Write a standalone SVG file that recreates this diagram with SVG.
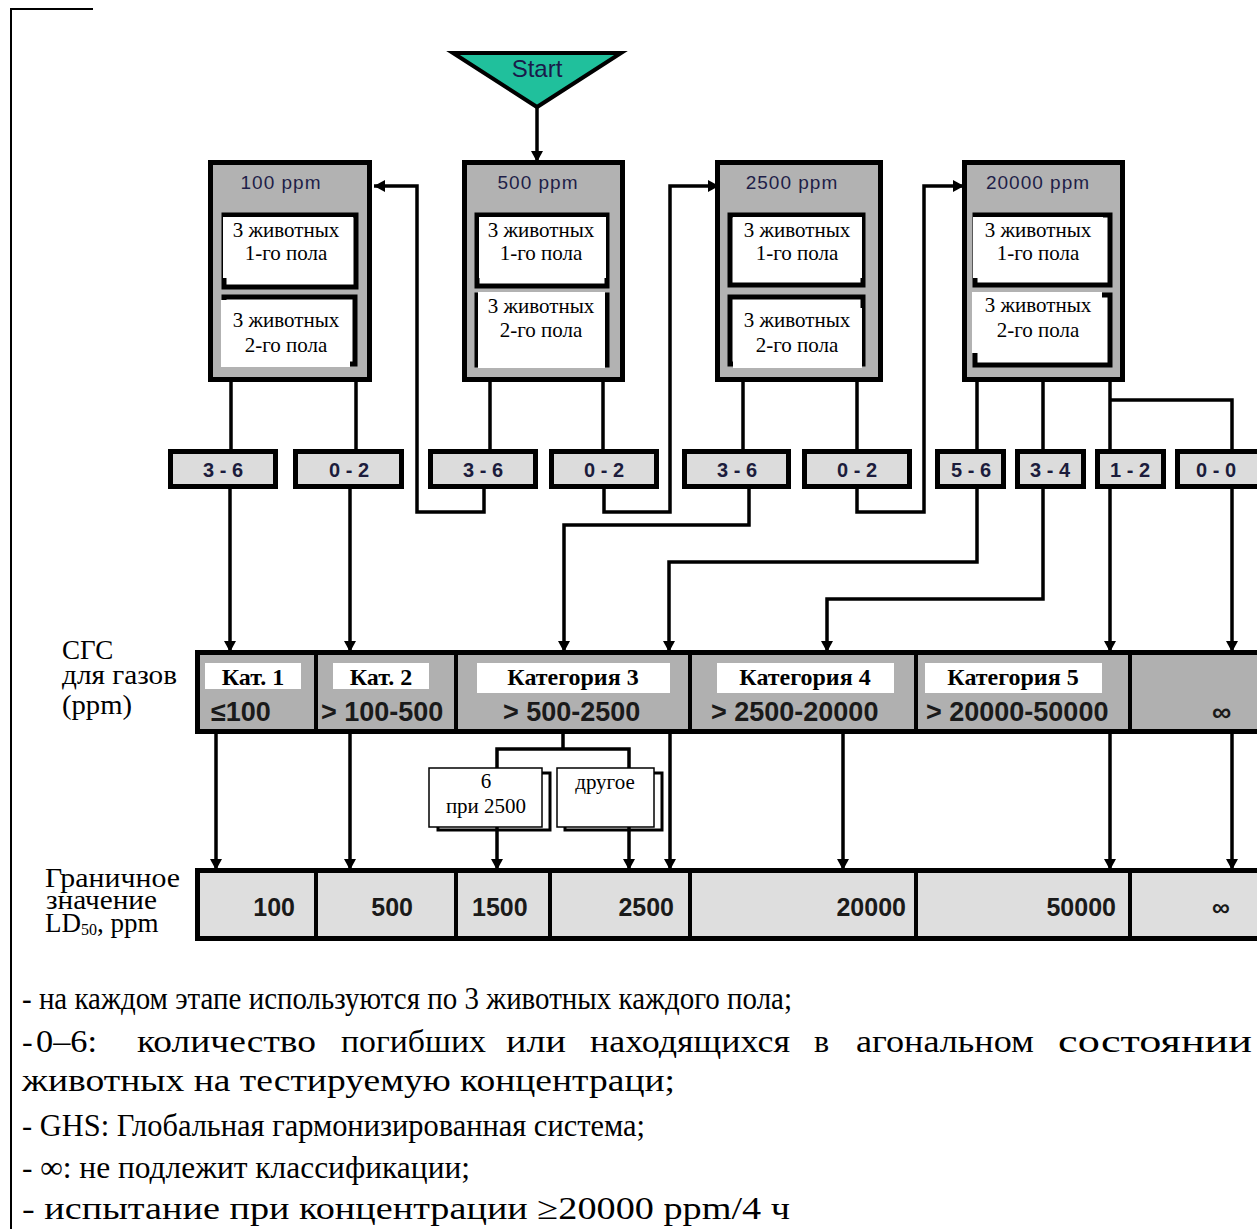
<svg xmlns="http://www.w3.org/2000/svg" width="1257" height="1229" viewBox="0 0 1257 1229">
  <defs>
    <marker id="arrow" markerUnits="userSpaceOnUse" markerWidth="14" markerHeight="14" refX="11" refY="6" orient="auto">
      <path d="M0,0 L11,6 L0,12 z" fill="#000"/>
    </marker>
    <style>
      .frame { fill: none; stroke: #000; stroke-width: 2; }
      .stage { fill: #b2b2b2; stroke: #000; stroke-width: 5; }
      .inner { fill: #fff; stroke: #000; stroke-width: 5; }
      .cover { fill: #fff; }
      .result { fill: #dcdcdc; stroke: #000; stroke-width: 5; }
      .cat { fill: #b0b0b0; stroke: #000; stroke-width: 5; }
      .ld { fill: #dedede; stroke: #000; stroke-width: 5; }
      .div { stroke: #000; stroke-width: 4; }
      .conn { fill: none; stroke: #000; stroke-width: 3.5; }
      .conn-a { fill: none; stroke: #000; stroke-width: 3.5; marker-end: url(#arrow); }
      .note-box { fill: #fff; stroke: #000; stroke-width: 1.5; }
      .shadow { fill: #fff; stroke: #000; stroke-width: 3; }
      .hdr { font-family: "Liberation Sans", Arial, sans-serif; font-size: 19px; letter-spacing: 1px; fill: #1e1e48; text-anchor: middle; }
      .ser { font-family: "Liberation Serif", "Times New Roman", serif; font-size: 21px; fill: #000; text-anchor: middle; }
      .res { font-family: "Liberation Sans", Arial, sans-serif; font-size: 20px; font-weight: bold; fill: #1c1c3c; text-anchor: middle; }
      .catl { font-family: "Liberation Serif", "Times New Roman", serif; font-size: 24px; font-weight: bold; fill: #000; text-anchor: middle; }
      .rng { font-family: "Liberation Sans", Arial, sans-serif; font-size: 27px; font-weight: bold; fill: #1a1a1a; }
      .val { font-family: "Liberation Sans", Arial, sans-serif; font-size: 25px; font-weight: bold; fill: #1a1a1a; }
      .side { font-family: "Liberation Serif", "Times New Roman", serif; font-size: 27px; fill: #000; }
      .note { font-family: "Liberation Serif", "Times New Roman", serif; font-size: 32px; fill: #000; }
    </style>
  </defs>

  <!-- page frame corner -->
  <path class="frame" d="M93,9 H11 V1229"/>

  <!-- start marker -->
  <g id="start">
    <polygon points="453,53 621,53 537,107" fill="#20c09c" stroke="#000" stroke-width="4" stroke-linejoin="miter"/>
    <text x="537" y="77" font-family="Liberation Sans, Arial, sans-serif" font-size="24" fill="#1a1a4a" text-anchor="middle">Start</text>
  </g>

  <!-- concentration stages -->
  <g id="stage-100">
    <rect class="stage" x="210.5" y="162.5" width="159" height="217"/>
    <text class="hdr" x="281" y="189">100 ppm</text>
    <rect class="inner" x="224" y="215" width="132" height="72"/>
    <rect class="cover" x="223" y="217" width="130" height="61"/>
    <text class="ser" x="286" y="237">3 животных</text>
    <text class="ser" x="286" y="260">1-го пола</text>
    <rect class="inner" x="224" y="297" width="131" height="67"/>
    <rect class="cover" x="221" y="300" width="129" height="67"/>
    <text class="ser" x="286" y="327">3 животных</text>
    <text class="ser" x="286" y="352">2-го пола</text>
  </g>

  <g id="stage-500">
    <rect class="stage" x="464.5" y="162.5" width="158" height="217"/>
    <text class="hdr" x="538" y="189">500 ppm</text>
    <rect class="inner" x="477" y="215" width="130" height="71"/>
    <rect class="cover" x="479" y="217" width="127" height="61"/>
    <text class="ser" x="541" y="237">3 животных</text>
    <text class="ser" x="541" y="260">1-го пола</text>
    <rect class="inner" x="477" y="295" width="130" height="70"/>
    <rect class="cover" x="478" y="292" width="127" height="76"/>
    <text class="ser" x="541" y="313">3 животных</text>
    <text class="ser" x="541" y="337">2-го пола</text>
  </g>

  <g id="stage-2500">
    <rect class="stage" x="717.5" y="162.5" width="163" height="217"/>
    <text class="hdr" x="792" y="189">2500 ppm</text>
    <rect class="inner" x="730" y="215" width="133" height="70"/>
    <rect class="cover" x="733" y="217" width="129" height="61"/>
    <text class="ser" x="797" y="237">3 животных</text>
    <text class="ser" x="797" y="260">1-го пола</text>
    <rect class="inner" x="730" y="297" width="133" height="67"/>
    <rect class="cover" x="733" y="308" width="129" height="60"/>
    <text class="ser" x="797" y="327">3 животных</text>
    <text class="ser" x="797" y="352">2-го пола</text>
  </g>

  <g id="stage-20000">
    <rect class="stage" x="964.5" y="162.5" width="158" height="217"/>
    <text class="hdr" x="1038" y="189">20000 ppm</text>
    <rect class="inner" x="975" y="215" width="135" height="70"/>
    <rect class="cover" x="973" y="217" width="130" height="61"/>
    <text class="ser" x="1038" y="237">3 животных</text>
    <text class="ser" x="1038" y="260">1-го пола</text>
    <rect class="inner" x="975" y="295" width="135" height="70"/>
    <rect class="cover" x="972" y="292" width="130" height="61"/>
    <text class="ser" x="1038" y="312">3 животных</text>
    <text class="ser" x="1038" y="337">2-го пола</text>
  </g>

  <!-- outcome boxes (number of dead animals) -->
  <g id="r100-36"><rect class="result" x="170.5" y="451.5" width="105" height="35"/><text class="res" x="223" y="477">3 - 6</text></g>
  <g id="r100-02"><rect class="result" x="295.5" y="451.5" width="106" height="35"/><text class="res" x="349" y="477">0 - 2</text></g>
  <g id="r500-36"><rect class="result" x="430.5" y="451.5" width="105" height="35"/><text class="res" x="483" y="477">3 - 6</text></g>
  <g id="r500-02"><rect class="result" x="551.5" y="451.5" width="105" height="35"/><text class="res" x="604" y="477">0 - 2</text></g>
  <g id="r2500-36"><rect class="result" x="684.5" y="451.5" width="104" height="35"/><text class="res" x="737" y="477">3 - 6</text></g>
  <g id="r2500-02"><rect class="result" x="804.5" y="451.5" width="105" height="35"/><text class="res" x="857" y="477">0 - 2</text></g>
  <g id="r20000-56"><rect class="result" x="937.5" y="451.5" width="66" height="35"/><text class="res" x="971" y="477">5 - 6</text></g>
  <g id="r20000-34"><rect class="result" x="1017.5" y="451.5" width="66" height="35"/><text class="res" x="1050" y="477">3 - 4</text></g>
  <g id="r20000-12"><rect class="result" x="1097.5" y="451.5" width="66" height="35"/><text class="res" x="1130" y="477">1 - 2</text></g>
  <g id="r20000-00"><rect class="result" x="1177.5" y="451.5" width="100" height="35"/><text class="res" x="1216" y="477">0 - 0</text></g>

  <!-- GHS category row -->
  <g id="categories">
    <rect class="cat" x="197.5" y="652.5" width="1080" height="79"/>
    <line class="div" x1="316" y1="652" x2="316" y2="732"/>
    <line class="div" x1="456" y1="652" x2="456" y2="732"/>
    <line class="div" x1="690" y1="652" x2="690" y2="732"/>
    <line class="div" x1="916" y1="652" x2="916" y2="732"/>
    <line class="div" x1="1130" y1="652" x2="1130" y2="732"/>
    <rect class="cover" x="205" y="663" width="96" height="26"/>
    <rect class="cover" x="333" y="663" width="96" height="26"/>
    <rect class="cover" x="477" y="663" width="193" height="30"/>
    <rect class="cover" x="717" y="663" width="177" height="30"/>
    <rect class="cover" x="925" y="663" width="177" height="30"/>
    <text class="catl" x="253" y="685">Кат. 1</text>
    <text class="catl" x="381" y="685">Кат. 2</text>
    <text class="catl" x="573" y="685">Категория 3</text>
    <text class="catl" x="805" y="685">Категория 4</text>
    <text class="catl" x="1013" y="685">Категория 5</text>
    <text class="rng" x="211" y="721">≤100</text>
    <text class="rng" x="321" y="721">&gt; 100-500</text>
    <text class="rng" x="503" y="721">&gt; 500-2500</text>
    <text class="rng" x="711" y="721">&gt; 2500-20000</text>
    <text class="rng" x="926" y="721">&gt; 20000-50000</text>
    <text class="rng" x="1212" y="721" font-size="31">∞</text>
  </g>

  <!-- Category 3 split -->
  <g id="split-6">
    <rect class="shadow" x="438" y="773" width="112" height="57"/>
    <rect class="note-box" x="429" y="768" width="113" height="59"/>
    <text class="ser" x="486" y="788" font-size="20">6</text>
    <text class="ser" x="486" y="813" font-size="20">при 2500</text>
  </g>
  <g id="split-other">
    <rect class="shadow" x="565" y="773" width="97" height="57"/>
    <rect class="note-box" x="557" y="768" width="97" height="59"/>
    <text class="ser" x="605" y="789" font-size="20">другое</text>
  </g>

  <!-- LD50 limit value row -->
  <g id="limits">
    <rect class="ld" x="197.5" y="870.5" width="1080" height="68"/>
    <line class="div" x1="316" y1="870" x2="316" y2="939"/>
    <line class="div" x1="456" y1="870" x2="456" y2="939"/>
    <line class="div" x1="550" y1="870" x2="550" y2="939"/>
    <line class="div" x1="690" y1="870" x2="690" y2="939"/>
    <line class="div" x1="916" y1="870" x2="916" y2="939"/>
    <line class="div" x1="1130" y1="870" x2="1130" y2="939"/>
    <text class="val" x="295" y="916" text-anchor="end">100</text>
    <text class="val" x="413" y="916" text-anchor="end">500</text>
    <text class="val" x="472" y="916">1500</text>
    <text class="val" x="674" y="916" text-anchor="end">2500</text>
    <text class="val" x="906" y="916" text-anchor="end">20000</text>
    <text class="val" x="1116" y="916" text-anchor="end">50000</text>
    <text class="val" x="1212" y="916" font-size="30">∞</text>
  </g>

  <!-- row labels -->
  <g id="row-labels">
    <text class="side" x="62" y="659">СГС</text>
    <text class="side" x="62" y="684" textLength="115" lengthAdjust="spacingAndGlyphs">для газов</text>
    <text class="side" x="62" y="714" textLength="70" lengthAdjust="spacingAndGlyphs">(ppm)</text>
    <text class="side" x="45" y="887" font-size="24" textLength="135" lengthAdjust="spacingAndGlyphs">Граничное</text>
    <text class="side" x="46" y="909" font-size="24" textLength="111" lengthAdjust="spacingAndGlyphs">значение</text>
    <text class="side" x="45" y="932" font-size="25">LD<tspan font-size="16" dy="3">50</tspan><tspan dy="-3">, ppm</tspan></text>
  </g>

  <!-- connectors -->
  <g id="connectors">
    <path class="conn-a" d="M537,108 V162"/>
    <path class="conn" d="M231,382 V450 M356,382 V450"/>
    <path class="conn" d="M490,382 V450 M603,382 V450"/>
    <path class="conn" d="M743,382 V450 M857,382 V450"/>
    <path class="conn" d="M977,382 V450 M1043,382 V450 M1110,382 V450 M1110,400 H1232 V450"/>
    <path class="conn-a" d="M230,488 V652"/>
    <path class="conn-a" d="M350,488 V652"/>
    <path class="conn-a" d="M484,488 V512 H417 V186 H374"/>
    <path class="conn-a" d="M604,488 V512 H670 V186 H719"/>
    <path class="conn-a" d="M749,488 V525 H564 V652"/>
    <path class="conn-a" d="M857,488 V512 H924 V186 H964"/>
    <path class="conn-a" d="M977,488 V562 H669 V652"/>
    <path class="conn-a" d="M1043,488 V599 H827 V652"/>
    <path class="conn-a" d="M1110,488 V652"/>
    <path class="conn-a" d="M1232,488 V652"/>
    <path class="conn-a" d="M216,733 V870"/>
    <path class="conn-a" d="M350,733 V870"/>
    <path class="conn" d="M563,733 V749 M497,768 V749 H629 V768"/>
    <path class="conn-a" d="M497,827 V870"/>
    <path class="conn-a" d="M629,827 V870"/>
    <path class="conn-a" d="M670,733 V870"/>
    <path class="conn-a" d="M843,733 V870"/>
    <path class="conn-a" d="M1110,733 V870"/>
    <path class="conn-a" d="M1232,733 V870"/>
  </g>

  <!-- notes -->
  <g id="notes">
    <text class="note" x="22" y="1009" textLength="770" lengthAdjust="spacingAndGlyphs">- на каждом этапе используются по 3 животных каждого пола;</text>
    <text class="note" x="22" y="1052">-</text>
    <text class="note" x="36" y="1052" textLength="61" lengthAdjust="spacingAndGlyphs">0–6:</text>
    <text class="note" x="137" y="1052" textLength="179" lengthAdjust="spacingAndGlyphs">количество</text>
    <text class="note" x="341" y="1052" textLength="145" lengthAdjust="spacingAndGlyphs">погибших</text>
    <text class="note" x="506" y="1052" textLength="60" lengthAdjust="spacingAndGlyphs">или</text>
    <text class="note" x="590" y="1052" textLength="200" lengthAdjust="spacingAndGlyphs">находящихся</text>
    <text class="note" x="814" y="1052">в</text>
    <text class="note" x="856" y="1052" textLength="178" lengthAdjust="spacingAndGlyphs">агональном</text>
    <text class="note" x="1058" y="1052" textLength="194" lengthAdjust="spacingAndGlyphs">состоянии</text>
    <text class="note" x="22" y="1091" textLength="653" lengthAdjust="spacingAndGlyphs">животных на тестируемую концентраци;</text>
    <text class="note" x="22" y="1136" textLength="623" lengthAdjust="spacingAndGlyphs">- GHS: Глобальная гармонизированная система;</text>
    <text class="note" x="22" y="1178" textLength="448" lengthAdjust="spacingAndGlyphs">- ∞: не подлежит классификации;</text>
    <text class="note" x="22" y="1219" textLength="768" lengthAdjust="spacingAndGlyphs">- испытание при концентрации ≥20000 ppm/4 ч</text>
  </g>
</svg>
